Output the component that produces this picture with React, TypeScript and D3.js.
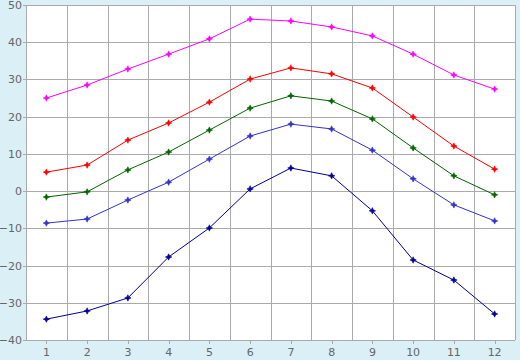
import React from "react";
import * as d3 from "d3";

const months = [1, 2, 3, 4, 5, 6, 7, 8, 9, 10, 11, 12];
const yTicks = [-40, -30, -20, -10, 0, 10, 20, 30, 40, 50];
const seriesMagenta = [25.0, 28.5, 32.8, 36.8, 40.9, 46.2, 45.7, 44.1, 41.7, 36.8, 31.2, 27.4];
const seriesRed = [5.1, 7.0, 13.7, 18.3, 23.9, 30.1, 33.1, 31.5, 27.7, 19.9, 12.1, 5.9];
const seriesGreen = [-1.6, -0.2, 5.7, 10.5, 16.4, 22.3, 25.6, 24.2, 19.4, 11.6, 4.1, -1.0];
const seriesBlue = [-8.6, -7.5, -2.4, 2.4, 8.6, 14.8, 18.0, 16.7, 11.0, 3.3, -3.7, -8.0];
const seriesNavy = [-34.4, -32.2, -28.7, -17.7, -9.9, 0.6, 6.2, 4.1, -5.3, -18.5, -23.9, -33.0];

const series = [
  { values: seriesMagenta, color: "#ff00ff" },
  { values: seriesRed, color: "#ff0000" },
  { values: seriesGreen, color: "#006600" },
  { values: seriesBlue, color: "#3333cc" },
  { values: seriesNavy, color: "#000099" },
];

export default function App() {
  const W = 520, H = 360;
  const left = 26, right = 515, top = 5, bottom = 340;
  const x = d3.scaleBand<number>().domain(months).range([left, right]);
  const y = d3.scaleLinear().domain([-40, 50]).range([bottom, top]);
  const cx = (m: number) => (x(m) as number) + x.bandwidth() / 2;
  const line = d3.line<number>().x((_, i) => cx(months[i])).y((v) => y(v));
  const marker = "M0,-3.2L1,-1L3.2,0L1,1L0,3.2L-1,1L-3.2,0L-1,-1Z";
  const gridBounds = months.map((m) => x(m) as number).concat([right]);

  return (
    <div style={{ position: "absolute", left: 0, top: 0 }}>
      <svg width={W} height={H} style={{ display: "block" }}>
        <rect x={0} y={0} width={W} height={H} fill="#dbeff7" />
        <rect x={left} y={top} width={right - left} height={bottom - top} fill="#ffffff" />
        <g shapeRendering="crispEdges" stroke="#aaaaaa" strokeWidth={1}>
          {yTicks.map((t) => (
            <line key={"h" + t} x1={left - 3} x2={right} y1={Math.round(y(t)) + 0.5} y2={Math.round(y(t)) + 0.5} />
          ))}
          {gridBounds.map((b, i) => (
            <line key={"v" + i} x1={Math.round(b) + 0.5} x2={Math.round(b) + 0.5} y1={top} y2={bottom} />
          ))}
          {months.map((m) => (
            <line key={"t" + m} x1={Math.round(cx(m)) + 0.5} x2={Math.round(cx(m)) + 0.5} y1={bottom} y2={bottom + 4} />
          ))}
        </g>
        <g fontFamily="DejaVu Sans, Verdana, sans-serif" fontSize={11} fill="#666666">
          {yTicks.map((t) => (
            <text key={"yl" + t} x={22} y={y(t) + 4} textAnchor="end">
              {t < 0 ? "\u2212" + Math.abs(t) : t}
            </text>
          ))}
          {months.map((m) => (
            <text key={"xl" + m} x={cx(m)} y={356} textAnchor="middle">
              {m}
            </text>
          ))}
        </g>
        {series.map((s, si) => (
          <g key={"s" + si}>
            <path d={line(s.values) as string} fill="none" stroke={s.color} strokeWidth={1} />
            {s.values.map((v, i) => (
              <path key={i} d={marker} transform={`translate(${cx(months[i])},${y(v)})`} fill={s.color} stroke={s.color} strokeWidth={0.6} />
            ))}
          </g>
        ))}
      </svg>
    </div>
  );
}
